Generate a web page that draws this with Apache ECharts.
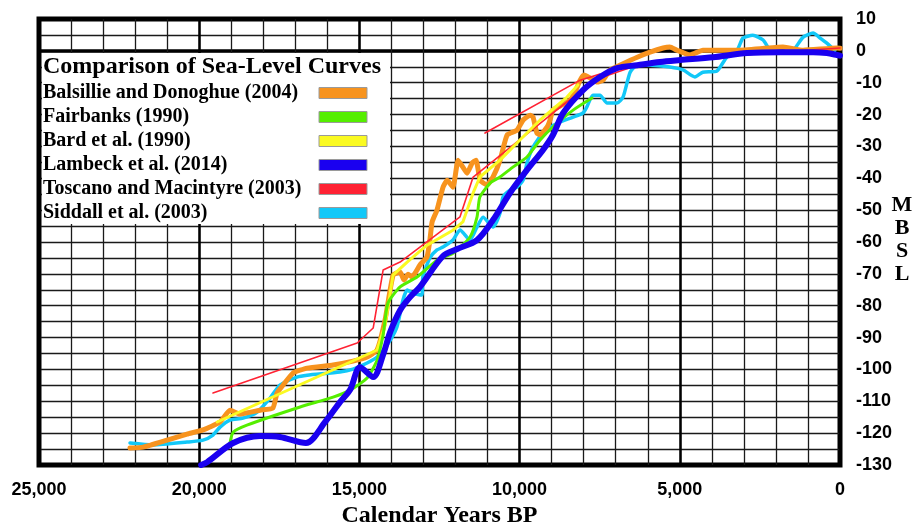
<!DOCTYPE html>
<html>
<head>
<meta charset="utf-8">
<script src="https://cdn.jsdelivr.net/npm/echarts@6/dist/echarts.min.js"></script>
<style>
  html, body { margin: 0; padding: 0; background: #fff; }
  #chart { width: 912px; height: 526px; }
</style>
</head>
<body>
<div id="chart"></div>
<script>
// sea-level curves, [years BP, metres]
var seriesNames = ['Balsillie and Donoghue (2004)', 'Fairbanks (1990)', 'Bard et al. (1990)',
  'Lambeck et al. (2014)', 'Toscano and Macintyre (2003)', 'Siddall et al. (2003)'];
var seriesColors = ['#F7931E', '#55EE00', '#FAFA22', '#1A00F0', '#FF2233', '#12C8F8'];

var balsillie = [[22160,-124.7],[21750,-124.4],[21000,-122.2],[20380,-120.3],[19880,-119.0],[19350,-116.5],
  [19040,-112.8],[18730,-114.0],[18100,-112.8],[17700,-112.1],[17570,-107.4],[17380,-104.9],[17070,-101.1],
  [16630,-99.6],[15820,-98.6],[15200,-97.4],[14760,-96.1],[14450,-93.9],[14200,-84.5],[13950,-70.4],
  [13730,-69.4],[13610,-71.9],[13480,-70.1],[13360,-71.0],[13110,-67.2],[12890,-64.7],[12800,-59.4],
  [12730,-53.7],[12580,-50.0],[12390,-42.8],[12260,-40.6],[12080,-42.8],[11920,-34.3],[11770,-36.5],
  [11640,-38.4],[11480,-35.2],[11360,-34.3],[11230,-40.6],[11020,-42.1],[10830,-39.6],[10610,-34.3],
  [10390,-26.4],[10080,-24.9],[9890,-21.7],[9670,-20.2],[9580,-20.8],[9460,-25.8],[9360,-26.4],
  [9140,-23.9],[9050,-21.7],[8960,-18.6],[8740,-17.3],[8430,-15.5],[8270,-12.9],[8110,-9.2],[7990,-7.6],
  [7800,-8.5],[7580,-9.8],[7400,-9.2],[7180,-6.0],[6870,-4.5],[6330,-2.0],[5930,-0.4],[5520,0.9],
  [5310,1.2],[5090,0.2],[4680,-1.3],[4280,0.2],[3210,0.2],[1780,1.2],[1150,0.2],[90,0.9],[0,0.8]];

var fairbanks = [[19040,-123.1],[18940,-119.7],[18510,-117.5],[16850,-111.8],[15820,-108.7],[15290,-106.5],
  [14760,-102.7],[14450,-97.1],[14260,-89.2],[14110,-79.2],[13730,-74.1],[13200,-71.0],[12580,-65.7],
  [12080,-63.5],[11550,-58.5],[11330,-52.2],[11240,-45.9],[10920,-41.5],[10610,-39.6],[10210,-36.5],
  [9770,-33.3],[9360,-28.0],[8960,-23.9],[8330,-18.6],[7740,-14.8]];

var bard = [[19440,-116.5],[14450,-93.9],[14200,-86.1],[13950,-70.4],[13510,-66.3],[12890,-61.0],
  [12080,-56.3],[11770,-53.7],[11450,-44.6],[11240,-39.6],[10610,-34.3],[9990,-28.0],[9360,-21.7],
  [8520,-14.5],[8180,-10.7]];

var lambeck = [[19940,-130],[19750,-129.1],[18940,-123.1],[18100,-120.9],[17480,-121.2],[16670,-123.1],
  [16070,-116.5],[15600,-110.2],[15290,-106.4],[14980,-99.3],[14570,-102.4],[14260,-95.4],[14040,-88.3],
  [13730,-81.4],[13420,-77.3],[13110,-74.1],[12390,-64.4],[11950,-62.2],[11330,-59.4],[10830,-53.1],
  [10300,-44.6],[9770,-37.4],[9270,-31.1],[8960,-26.4],[8640,-19.5],[8020,-12.3],[7490,-8.2],[6960,-5.4],
  [6330,-4.5],[5620,-3.5],[4990,-2.9],[3960,-2.0],[2900,-0.7],[1870,-0.4],[840,-0.4],[410,-0.7],
  [90,-1.3],[0,-1.5]];

var toscano = [[19570,-107.4],[15070,-91.7],[14570,-87.0],[14260,-68.8],[13730,-66.3],[11860,-52.1],
  [11450,-39.6],[8650,-17.0],[7490,-8.5],[6240,-4.2],[4370,-2.3],[1870,-0.4],[0,0.9]];
var toscanoUpper = [[11080,-25.8],[8110,-9.2],[7490,-7.3]];

var siddall = [[22160,-123.1],[21440,-123.7],[20380,-122.8],[19880,-122.2],[19570,-120.6],[19350,-118.1],
  [19040,-115.9],[18630,-115.3],[18190,-113.4],[17790,-109.0],[17480,-104.9],[16950,-102.4],[16630,-101.8],
  [15610,-100.8],[15200,-99.9],[14760,-98.0],[14450,-96.1],[14140,-92.4],[13830,-86.7],[13640,-78.2],
  [13510,-75.1],[13330,-76.0],[13050,-76.6],[13020,-71.0],[12800,-65.0],[12580,-62.5],[12390,-61.6],
  [12080,-59.4],[11860,-56.2],[11550,-59.4],[11330,-55.3],[11140,-52.2],[10830,-55.3],[10610,-50.9],
  [10520,-45.9],[10300,-43.7],[10080,-42.8],[9890,-40.6],[9770,-35.2],[9580,-30.2],[9270,-25.8],
  [8830,-22.7],[8330,-20.8],[8020,-19.5],[7900,-17.6],[7710,-13.9],[7490,-13.9],[7270,-16.4],
  [6960,-16.4],[6770,-14.5],[6550,-6.7],[6330,-4.5],[5930,-4.5],[5310,-5.1],[4900,-6.0],[4530,-8.2],
  [4280,-6.7],[3840,-6.3],[3530,-1.9],[3210,0.2],[3030,4.0],[2720,4.9],[2400,3.4],[2180,0.2],
  [1870,-0.7],[1560,-0.7],[1150,4.3],[840,5.6],[620,4.0],[410,2.4],[160,0.2]];

var serif = 'Liberation Serif';
var sans = 'Liberation Sans';

function curve(name, data, color, width, smooth, z) {
    return {
        name: name,
        type: 'line',
        data: data,
        showSymbol: false,
        symbol: 'none',
        smooth: smooth,
        z: z,
        color: color,
        lineStyle: { color: color, width: width, cap: 'round', join: 'round' },
        emphasis: { disabled: true }
    };
}

var chart = echarts.init(document.getElementById('chart'));

var option = {
    animation: false,
    backgroundColor: '#fff',
    grid: {
        left: 39, right: 72, top: 19, bottom: 61,
        outerBoundsMode: 'none', containLabel: false,
        show: true, borderColor: '#000', borderWidth: 5, backgroundColor: '#fff'
    },
    title: {
        text: 'Comparison of Sea-Level Curves',
        left: 43, top: 55, padding: 0, z: 12,
        textStyle: { fontFamily: serif, fontWeight: 'bold', fontSize: 24, color: '#000' }
    },
    legend: {
        data: seriesNames,
        orient: 'vertical',
        left: 43, top: 83, padding: 0,
        align: 'right',
        icon: 'rect',
        itemWidth: 48, itemHeight: 11, itemGap: 4,
        selectedMode: false, z: 12,
        itemStyle: { borderColor: '#9a9a9a', borderWidth: 1 },
        formatter: function (name) { return '{t|' + name + '}'; },
        textStyle: {
            fontFamily: serif, fontWeight: 'bold', fontSize: 20, color: '#000', lineHeight: 20,
            rich: {
                t: { width: 271, align: 'left', fontFamily: serif, fontWeight: 'bold', fontSize: 20, color: '#000', lineHeight: 20 }
            }
        }
    },
    graphic: [
        { type: 'rect', z: 8, shape: { x: 42, y: 53, width: 348, height: 171 }, style: { fill: '#fff' } },
        { type: 'text', z: 8, x: 902, y: 194,
          style: { text: 'M\nB\nS\nL', font: 'bold 22px "Liberation Serif"', lineHeight: 23, fill: '#000', align: 'center' } }
    ],
    xAxis: [{
        type: 'value', inverse: true, min: 0, max: 25000, interval: 1000,
        name: 'Calendar Years BP', nameLocation: 'middle', nameGap: 39,
        nameTextStyle: { fontFamily: serif, fontWeight: 'bold', fontSize: 24, color: '#000' },
        axisLine: { show: false }, axisTick: { show: false },
        axisLabel: {
            margin: 16, color: '#000', fontFamily: sans, fontWeight: 'bold', fontSize: 18,
            showMinLabel: true, showMaxLabel: true,
            formatter: function (v) { return v % 5000 === 0 ? v.toLocaleString('en-US') : ''; }
        },
        splitLine: { lineStyle: { color: '#1a1a1a', width: 1.3 } }
    }, {
        // heavier lines every 5,000 years
        type: 'value', inverse: true, min: 0, max: 25000, interval: 5000,
        axisLine: { show: false }, axisTick: { show: false }, axisLabel: { show: false },
        splitLine: { lineStyle: { color: '#000', width: 2.5 } }
    }],
    yAxis: [{
        type: 'value', position: 'right', min: -130, max: 10, interval: 5,
        axisLine: { show: false }, axisTick: { show: false },
        axisLabel: {
            margin: 16, color: '#000', fontFamily: sans, fontWeight: 'bold', fontSize: 18,
            formatter: function (v) { return v % 10 === 0 ? String(v) : ''; }
        },
        splitLine: { lineStyle: { color: '#1a1a1a', width: 1.3 } }
    }, {
        // heavy line at present sea level
        type: 'value', position: 'right', min: -130, max: 10, interval: 130,
        axisLine: { show: false }, axisTick: { show: false }, axisLabel: { show: false },
        splitLine: { lineStyle: { color: '#000', width: 3.5 } }
    }],
    series: [
        curve(seriesNames[5], siddall, seriesColors[5], 3.5, 0.2, 2),
        curve(seriesNames[0], balsillie, seriesColors[0], 5, 0.15, 3),
        curve(seriesNames[4], toscano, seriesColors[4], 1.6, false, 4),
        curve(seriesNames[4], toscanoUpper, seriesColors[4], 1.6, false, 4),
        curve(seriesNames[2], bard, seriesColors[2], 3, false, 5),
        curve(seriesNames[1], fairbanks, seriesColors[1], 3, 0.2, 6),
        curve(seriesNames[3], lambeck, seriesColors[3], 6, 0.3, 7)
    ]
};

chart.setOption(option);
</script>
</body>
</html>
